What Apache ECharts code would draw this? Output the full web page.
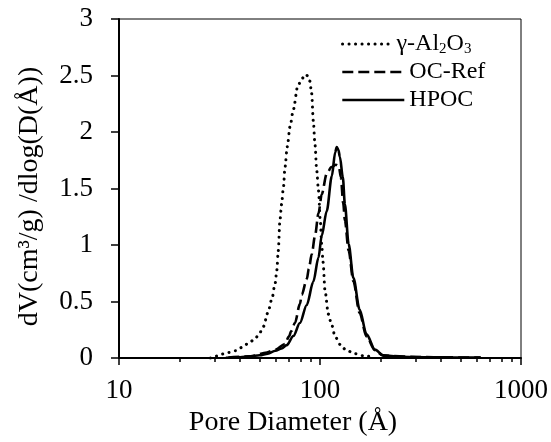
<!DOCTYPE html>
<html>
<head>
<meta charset="utf-8">
<script src="https://cdn.jsdelivr.net/npm/echarts@6/dist/echarts.min.js"></script>
<style>
  html, body { margin: 0; padding: 0; background: #fff; }
  #chart { width: 551px; height: 442px; }
</style>
</head>
<body>
<div id="chart"></div>
<script>
// Pore size distributions: pore diameter (Å) vs dV/dlog(D)
const seriesNames = ['γ-Al2O3', 'OC-Ref', 'HPOC'];

const diamAl2O3 = [28.5, 30, 32.4, 35, 38, 41, 44, 47.5, 50, 52.3, 55, 57.6, 59.8, 61, 62, 63.2, 64.4, 65.7, 67, 68.7, 71, 73.7, 77.4, 81, 85, 87.5, 89, 90.9, 92.6, 94.4, 96.3, 98.3, 100.3, 102, 103.5, 106, 110, 114, 119, 126, 135, 149, 165, 185];
const dvAl2O3 = [0, 0.015, 0.035, 0.05, 0.065, 0.096, 0.13, 0.17, 0.22, 0.28, 0.40, 0.52, 0.66, 0.78, 0.95, 1.22, 1.36, 1.50, 1.69, 1.87, 2.05, 2.20, 2.40, 2.47, 2.51, 2.49, 2.45, 2.34, 2.10, 1.89, 1.66, 1.48, 1.22, 1.0, 0.85, 0.59, 0.39, 0.30, 0.19, 0.12, 0.07, 0.04, 0.02, 0.01];

const diamOCRef = [35, 45, 54.4, 60, 67, 70, 72, 75, 79.5, 81.1, 86, 88, 91, 94.4, 98.3, 102, 108, 114, 120, 124, 127, 130.5, 133, 138.8, 146.6, 157.4, 170.5, 187.6, 206, 300, 450, 630];
const dvOCRef = [0.005, 0.015, 0.05, 0.075, 0.125, 0.19, 0.24, 0.31, 0.48, 0.56, 0.70, 0.79, 0.92, 1.08, 1.28, 1.45, 1.63, 1.69, 1.71, 1.70, 1.60, 1.37, 1.22, 0.95, 0.68, 0.40, 0.19, 0.07, 0.022, 0.01, 0.006, 0.004];

const diamHPOC = [34, 40, 45, 50, 55, 60, 64.4, 68.3, 73.7, 79.4, 85.9, 92.6, 98.3, 101.9, 108, 114.5, 119, 121.1, 123.5, 125.6, 129.9, 133, 138.8, 146.6, 157.4, 170.5, 187.6, 206, 250, 350, 500, 630];
const dvHPOC = [0.003, 0.008, 0.015, 0.025, 0.04, 0.065, 0.085, 0.115, 0.195, 0.31, 0.47, 0.675, 0.89, 1.08, 1.30, 1.61, 1.82, 1.867, 1.84, 1.78, 1.60, 1.36, 1.01, 0.71, 0.43, 0.21, 0.075, 0.025, 0.012, 0.008, 0.005, 0.004];

// x axis: decades plus minor ticks at 2..9 of each decade
const xMin = 10, xMax = 1000;
const xMinorTicks = [20, 30, 40, 50, 60, 70, 80, 90, 200, 300, 400, 500, 600, 700, 800, 900];
const yMin = 0, yMax = 3, yStep = 0.5;

const FONT = '"Liberation Serif", "Times New Roman", serif';
const pairs = (xs, ys) => xs.map((x, i) => [x, ys[i]]);

const chart = echarts.init(document.getElementById('chart'), null, { renderer: 'canvas' });

const baseSeries = {
  type: 'line',
  xAxisIndex: 0,
  yAxisIndex: 0,
  symbol: 'none',
  smooth: 0.3,
  smoothMonotone: 'x',
  silent: true,
  animation: false
};

const legendText = {
  fontFamily: FONT, fontSize: 24, lineHeight: 24, color: '#000',
  rich: {
    n: { fontFamily: FONT, fontSize: 24, color: '#000' },
    s: { fontFamily: FONT, fontSize: 15, color: '#000', padding: [10, 0, 0, 0] }
  }
};
const legendBase = {
  orient: 'vertical',
  padding: 0,
  itemHeight: 14,
  selectedMode: false,
  textStyle: legendText,
  itemStyle: { color: 'rgba(0,0,0,0)', borderWidth: 0, opacity: 0 },
  lineStyle: { width: 'inherit', type: 'inherit', color: 'inherit' },
  formatter: function (name) {
    if (name === seriesNames[0]) return '{n|γ-Al}{s|2}{n|O}{s|3}';
    return name;
  }
};

chart.setOption({
  animation: false,
  textStyle: { fontFamily: FONT, color: '#000' },
  grid: {
    left: 119, right: 30, top: 19, bottom: 69,
    show: true, borderColor: '#000', borderWidth: 1, backgroundColor: 'transparent'
  },
  legend: [
    Object.assign({}, legendBase, {
      left: 341, top: 32, itemWidth: 49, itemGap: 4,
      data: [seriesNames[0]]
    }),
    Object.assign({}, legendBase, {
      left: 341, top: 60, itemWidth: 62, itemGap: 4,
      data: [seriesNames[1], seriesNames[2]]
    })
  ],
  xAxis: [
    {
      type: 'log', logBase: 10, min: xMin, max: xMax,
      position: 'bottom',
      name: 'Pore Diameter (Å)',
      nameLocation: 'middle', nameGap: 40,
      nameTextStyle: { fontFamily: FONT, fontSize: 28, color: '#000', padding: [0, 54, 0, 0] },
      axisLine: { show: true, onZero: false, lineStyle: { color: '#000', width: 2 } },
      axisTick: { show: true, inside: false, length: 7, lineStyle: { color: '#000', width: 1.5 } },
      axisLabel: {
        fontFamily: FONT, fontSize: 27, color: '#000', margin: 19,
        formatter: v => String(v)
      },
      splitLine: { show: false },
      minorTick: { show: false },
      minorSplitLine: { show: false }
    },
    {
      // minor ticks placed in log10 space on the same grid
      type: 'value', min: Math.log10(xMin), max: Math.log10(xMax),
      position: 'bottom', gridIndex: 0,
      axisLine: { show: false },
      axisTick: {
        show: true, inside: false, length: 4,
        customValues: xMinorTicks.map(v => Math.log10(v)),
        lineStyle: { color: '#000', width: 1.5 }
      },
      axisLabel: { show: false },
      splitLine: { show: false }
    }
  ],
  yAxis: {
    type: 'value', min: yMin, max: yMax, interval: yStep,
    name: 'dV(cm³/g) /dlog(D(Å))',
    nameLocation: 'middle', nameGap: 75, nameRotate: 90,
    nameTextStyle: { fontFamily: FONT, fontSize: 28, color: '#000', padding: [0, 16, 0, 0] },
    axisLine: { show: true, onZero: false, lineStyle: { color: '#000', width: 2 } },
    axisTick: { show: true, inside: false, length: 8, lineStyle: { color: '#000', width: 1.5 } },
    axisLabel: { fontFamily: FONT, fontSize: 27, color: '#000', margin: 26 },
    splitLine: { show: false }
  },
  series: [
    Object.assign({}, baseSeries, {
      name: seriesNames[0],
      data: pairs(diamAl2O3, dvAl2O3),
      lineStyle: { color: '#000', width: 3, type: [0.1, 6.4], cap: 'round' },
      itemStyle: { color: '#000' },
      z: 3
    }),
    Object.assign({}, baseSeries, {
      name: seriesNames[1],
      data: pairs(diamOCRef, dvOCRef),
      lineStyle: { color: '#000', width: 2.6, type: [11, 5] },
      itemStyle: { color: '#000' },
      z: 4
    }),
    Object.assign({}, baseSeries, {
      name: seriesNames[2],
      data: pairs(diamHPOC, dvHPOC),
      lineStyle: { color: '#000', width: 2.6, type: 'solid' },
      itemStyle: { color: '#000' },
      z: 5
    })
  ]
});
</script>
</body>
</html>
